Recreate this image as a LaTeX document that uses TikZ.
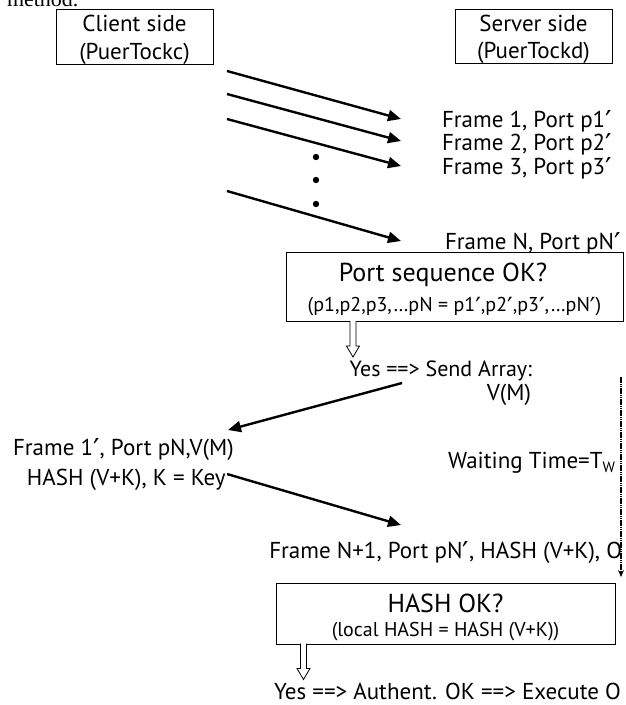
\documentclass[tikz,border=0pt]{standalone}
\usepackage{graphicx}
\usepackage{fontspec}
\setmainfont{PT Sans}
\newfontfamily\serifface{Liberation Serif}
\newfontfamily\primeface{DejaVu Sans}
\newcommand{\prm}{{\primeface\raisebox{-0.2em}{\scalebox{1.25}{′}}}}
\usetikzlibrary{arrows.meta}

\begin{document}
\begin{tikzpicture}[x=1pt,y=-1pt,
  every node/.style={inner sep=0pt,outer sep=0pt},
  frame/.style={draw,line width=1pt},
  txt/.style={font=\fontsize{23}{27}\selectfont},
  bigtxt/.style={font=\fontsize{26}{30}\selectfont},
  smalltxt/.style={font=\fontsize{20}{24}\selectfont},
  msg/.style={line width=2.4pt,-{Triangle[length=13pt,width=11pt]}},
  waiting/.style={line width=2.2pt,dash pattern=on 1.5pt off 0.7pt,-{Stealth[length=7pt,width=6pt]}},
  hollowdown/.pic={\draw[line width=0.8pt,fill=white]
    (-3,0) -- (-3,25) -- (-6.5,25) -- (0,36) -- (6.5,25) -- (3,25) -- (3,0);}
]
\clip (0,0) rectangle (625,705);

% fragment of the preceding sentence
\node[anchor=base west,font=\serifface\fontsize{22}{26}\selectfont] (prev) at (7,6) {method.};

% the two endpoints
\node[frame,minimum width=157pt,minimum height=55pt] (client) at (134.5,36.5) {};
\node[txt,anchor=base] (clientA) at (134.5,31) {Client side};
\node[txt,anchor=base] (clientB) at (134.5,59) {(PuerTockc)};
\node[frame,minimum width=157pt,minimum height=54pt] (server) at (533.5,36) {};
\node[txt,anchor=base] (serverA) at (533.5,31) {Server side};
\node[txt,anchor=base] (serverB) at (533.5,58) {(PuerTockd)};

% knock sequence
\coordinate (s1) at (227,71);  \coordinate (t1) at (401,119);
\coordinate (s2) at (227,94);  \coordinate (t2) at (401,141);
\coordinate (s3) at (227,119); \coordinate (t3) at (401,166);
\coordinate (sN) at (227,191); \coordinate (tN) at (401,241);
\draw[msg] (s1) -- (t1);
\draw[msg] (s2) -- (t2);
\draw[msg] (s3) -- (t3);
\draw[msg] (sN) -- (tN);
\fill (316,157) circle (3.2);
\fill (316,180) circle (3.2);
\fill (316,204) circle (3.2);
\node[txt,anchor=base west] (f1) at (442,127) {Frame 1, Port p1\prm};
\node[txt,anchor=base west] (f2) at (442,150) {Frame 2, Port p2\prm};
\node[txt,anchor=base west] (f3) at (442,174) {Frame 3, Port p3\prm};
\node[txt,anchor=base west] (fN) at (445,249) {Frame N, Port pN\prm};

% port sequence check
\node[frame,minimum width=337pt,minimum height=69pt] (ps) at (454.5,286.5) {};
\node[bigtxt,anchor=base] (psA) at (443,281) {Port sequence OK?};
\node[smalltxt,anchor=base] (psB) at (454.5,311) {(p1,p2,p3,…pN = p1\prm,p2\prm,p3\prm,…pN\prm)};
\pic at (353,321) {hollowdown};
\node[txt,anchor=base east,font=\fontsize{22}{26}\selectfont] (yes1) at (532,376) {Yes ==> Send Array:};
\node[txt,anchor=base east] (vm) at (531,400) {V(M)};

% reply and authenticated frame
\coordinate (r0) at (402,383); \coordinate (r1) at (228,430);
\draw[msg] (r0) -- (r1);
\node[txt,anchor=base west] (fr1) at (13,455) {Frame 1\prm, Port pN,V(M)};
\node[txt,anchor=base west] (hk) at (27,485) {HASH (V+K), K = Key};
\coordinate (a0) at (227,474); \coordinate (a1) at (401,525);
\draw[msg] (a0) -- (a1);
\node[txt,anchor=base east] (wt) at (615,468) {Waiting Time=T\raisebox{-0.35ex}{\fontsize{15}{15}\selectfont W}};
\coordinate (w0) at (621,377); \coordinate (w1) at (621,577);
\draw[waiting] (w0) -- (w1);
\node[txt,anchor=base east] (fN1) at (622,558) {Frame N+1, Port pN\prm, HASH (V+K), O};

% hash check
\node[frame,minimum width=339pt,minimum height=61pt] (hb) at (445.5,613.5) {};
\node[bigtxt,anchor=base] (hbA) at (445.5,612) {HASH OK?};
\node[smalltxt,anchor=base] (hbB) at (445.5,636) {(local HASH = HASH (V+K))};
\pic at (303.5,643.5) {hollowdown};
\node[txt,anchor=base west] (yes2) at (274,699) {Yes ==> Authent. OK ==> Execute O};
\end{tikzpicture}
\end{document}
